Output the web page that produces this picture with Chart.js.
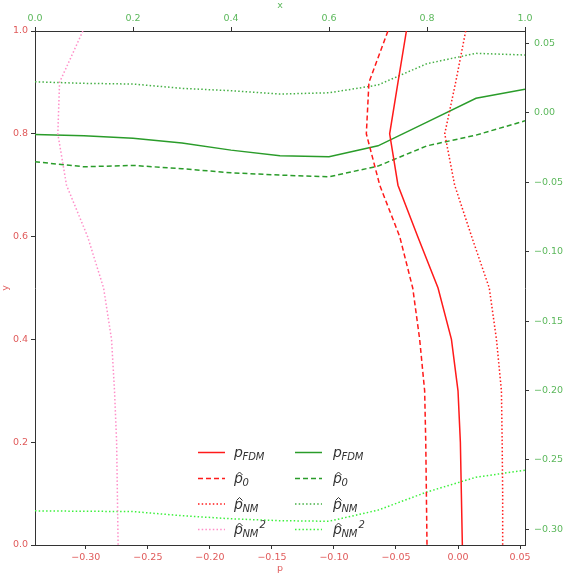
<!DOCTYPE html>
<html><head><meta charset="utf-8">
<script src="https://cdn.jsdelivr.net/npm/chart.js@4.4.0/dist/chart.umd.min.js"></script>
<style>html,body{margin:0;padding:0;background:#fff;}#wrap{width:563px;height:574px;}</style>
</head><body><div id="wrap"><canvas id="c" width="563" height="574"></canvas></div>
<script>
// Red family: p (bottom axis) vs y (left axis)
const yLevels = [1.0, 0.9, 0.8, 0.7, 0.6, 0.5, 0.4, 0.3, 0.2, 0.1, 0.0];
const redFDM  = [-0.0416, -0.0484, -0.0551, -0.0484, -0.0325, -0.0161, -0.0053, 0.0000, 0.0019, 0.0027, 0.0035];
const redP0   = [-0.0565, -0.0718, -0.0739, -0.0631, -0.0470, -0.0365, -0.0309, -0.0269, -0.0260, -0.0255, -0.0250];
const redNM   = [0.0062, -0.0019, -0.0107, -0.0027, 0.0110, 0.0252, 0.0310, 0.0350, 0.0356, 0.0360, 0.0360];
const pinkNM2 = [-0.3024, -0.3212, -0.3226, -0.3156, -0.2986, -0.2857, -0.2793, -0.2769, -0.2752, -0.2746, -0.2740];
// Green family: x (top axis) vs value (right axis)
const xLevels  = [0.0, 0.1, 0.2, 0.3, 0.4, 0.5, 0.6, 0.7, 0.8, 0.9, 1.0];
const greenFDM = [-0.0156, -0.0166, -0.0184, -0.0218, -0.0269, -0.0310, -0.0317, -0.0238, -0.0067, 0.0104, 0.0169];
const greenP0  = [-0.0353, -0.0389, -0.0379, -0.0403, -0.0432, -0.0449, -0.0461, -0.0384, -0.0238, -0.0161, -0.0058];
const greenNM  = [0.0223, 0.0212, 0.0207, 0.0176, 0.0159, 0.0135, 0.0144, 0.0200, 0.0354, 0.0428, 0.0416];
const limeNM2  = [-0.2867, -0.2870, -0.2872, -0.2902, -0.2924, -0.2938, -0.2942, -0.2862, -0.2731, -0.2625, -0.2574];

const pTicksRange = [-0.341, 0.054];
const yRightRange = [-0.3113, 0.0589];

const RED = '#ff1a1a', PINK = '#ff8ec8', GREEN = '#2a9c2a', GREEN_DOT = '#45b045', LIME = '#3cf03c';
const RED_LBL = '#e05a5a', GREEN_LBL = '#5cb85c';

const redPts = arr => arr.map((p, i) => ({x: p, y: yLevels[i]}));
const grnPts = arr => arr.map((v, i) => ({x: xLevels[i], y: v}));

const legendSpec = [
  {sub: 'FDM', hat: false, sup: ''},
  {sub: '0', hat: true, sup: ''},
  {sub: 'NM', hat: true, sup: ''},
  {sub: 'NM', hat: true, sup: '2'}
];

function ds(label, data, color, dash, xa, ya, w) {
  return {label, data, borderColor: color, backgroundColor: color, borderDash: dash,
    borderWidth: w || 1.5, showLine: true, pointRadius: 0, fill: false, tension: 0,
    xAxisID: xa, yAxisID: ya};
}
const datasets = [
  ds('p_FDM', redPts(redFDM), RED, [], 'xP', 'yL'),
  ds('p0', redPts(redP0), RED, [5, 3], 'xP', 'yL'),
  ds('pNM', redPts(redNM), RED, [1.5, 2.2], 'xP', 'yL'),
  ds('pNM2', redPts(pinkNM2), PINK, [1.5, 2.2], 'xP', 'yL'),
  ds('p_FDM', grnPts(greenFDM), GREEN, [], 'xT', 'yR'),
  ds('p0', grnPts(greenP0), GREEN, [5, 3], 'xT', 'yR'),
  ds('pNM', grnPts(greenNM), GREEN_DOT, [1.5, 2.2], 'xT', 'yR'),
  ds('pNM2', grnPts(limeNM2), LIME, [1.5, 2.2], 'xT', 'yR')
];

const FONT = {family: '"DejaVu Sans"', size: 9.5};
const fmt = d => v => { const s = Number(v).toFixed(d); return (Math.abs(v) < 1e-9 ? Number(0).toFixed(d) : s).replace('-', '\u2212'); };
const gridCfg = {display: true, drawOnChartArea: false, drawTicks: true, tickLength: 4, color: '#333', tickColor: '#333'};
const borderCfg = {display: true, color: '#333', width: 1};

const legendPlugin = {
  id: 'mathLegend',
  afterDatasetsDraw(chart) {
    const ctx = chart.ctx;
    const rowsY = [452.5, 478.5, 504, 529.5];
    const cols = [{lx: 198, tx: 234, start: 0}, {lx: 295, tx: 333, start: 4}];
    ctx.save();
    cols.forEach(col => {
      for (let r = 0; r < 4; r++) {
        const d = chart.data.datasets[col.start + r];
        const y = rowsY[r];
        ctx.beginPath();
        ctx.setLineDash(d.borderDash || []);
        ctx.strokeStyle = d.borderColor;
        ctx.lineWidth = 1.5;
        ctx.moveTo(col.lx, y);
        ctx.lineTo(col.lx + 27, y);
        ctx.stroke();
        ctx.setLineDash([]);
        const spec = legendSpec[r];
        ctx.fillStyle = '#333';
        ctx.textBaseline = 'alphabetic';
        ctx.textAlign = 'left';
        ctx.font = 'italic 14px "DejaVu Sans"';
        ctx.fillText('p', col.tx, y + 4.5);
        const pw = ctx.measureText('p').width;
        if (spec.hat) {
          ctx.beginPath();
          ctx.strokeStyle = '#333';
          ctx.lineWidth = 1;
          ctx.moveTo(col.tx + 2.5, y - 3.5);
          ctx.lineTo(col.tx + 5.5, y - 6.5);
          ctx.lineTo(col.tx + 8.5, y - 3.5);
          ctx.stroke();
        }
        ctx.font = 'italic 10px "DejaVu Sans"';
        ctx.fillText(spec.sub, col.tx + pw - 0.5, y + 7.5);
        if (spec.sup) {
          const sw = ctx.measureText(spec.sub).width;
          ctx.fillText(spec.sup, col.tx + pw + sw + 0.5, y - 1.5);
        }
      }
    });
    ctx.restore();
  }
};

new Chart(document.getElementById('c'), {
  type: 'scatter',
  data: {datasets},
  options: {
    responsive: false,
    animation: false,
    layout: {padding: 0},
    plugins: {legend: {display: false}, tooltip: {enabled: false}},
    scales: {
      xP: {
        type: 'linear', position: 'bottom', min: pTicksRange[0], max: pTicksRange[1],
        ticks: {stepSize: 0.05, includeBounds: false, autoSkip: false, maxRotation: 0, color: RED_LBL, font: FONT, padding: 3, callback: fmt(2)},
        grid: gridCfg, border: borderCfg,
        title: {display: true, text: 'p', color: RED_LBL, font: FONT, padding: 0},
        afterFit(s) { s.height = 29; }
      },
      yL: {
        type: 'linear', position: 'left', min: 0, max: 1,
        ticks: {stepSize: 0.2, includeBounds: false, autoSkip: false, color: RED_LBL, font: FONT, padding: 3, callback: fmt(1)},
        grid: gridCfg, border: borderCfg,
        title: {display: true, text: 'y', color: RED_LBL, font: FONT, padding: 0},
        afterFit(s) { s.width = 35; }
      },
      xT: {
        type: 'linear', position: 'top', min: 0, max: 1,
        ticks: {stepSize: 0.2, includeBounds: false, autoSkip: false, maxRotation: 0, color: GREEN_LBL, font: FONT, padding: 3, callback: fmt(1)},
        grid: gridCfg, border: borderCfg,
        title: {display: true, text: 'x', color: GREEN_LBL, font: FONT, padding: 0},
        afterFit(s) { s.height = 31; }
      },
      yR: {
        type: 'linear', position: 'right', min: yRightRange[0], max: yRightRange[1],
        ticks: {stepSize: 0.05, includeBounds: false, autoSkip: false, color: GREEN_LBL, font: FONT, padding: 5, callback: fmt(2)},
        grid: gridCfg, border: borderCfg,
        afterFit(s) { s.width = 38; }
      }
    }
  },
  plugins: [legendPlugin]
});
</script>
</body></html>
